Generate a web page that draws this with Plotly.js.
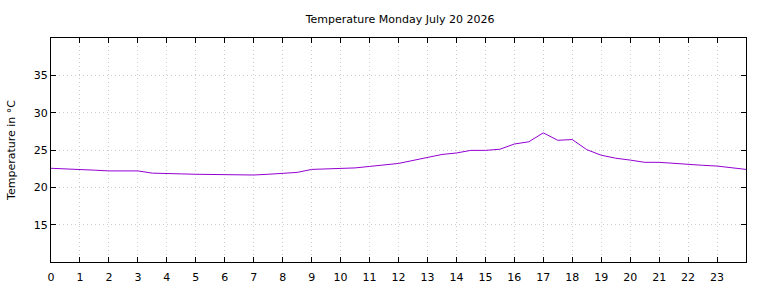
<!DOCTYPE html>
<html>
<head>
<meta charset="utf-8">
<script src="https://cdn.plot.ly/plotly-3.0.1.min.js"></script>
<style>
  html, body { margin: 0; padding: 0; background: #fff; }
  #chart { width: 768px; height: 288px; }
</style>
</head>
<body>
<div id="chart"></div>
<script>
// Half-hourly readings for the day (hour of day -> temperature in °C)
const hours = [
  0, 0.5, 1, 1.5, 2, 2.5, 3, 3.5, 4, 4.5, 5, 5.5, 6, 6.5, 7, 7.5,
  8, 8.5, 9, 9.5, 10, 10.5, 11, 11.5, 12, 12.5, 13, 13.5, 14, 14.5, 15, 15.5,
  16, 16.5, 17, 17.5, 18, 18.5, 19, 19.5, 20, 20.5, 21, 21.5, 22, 22.5, 23, 23.5, 24
];
const temps = [
  22.55, 22.5, 22.4, 22.3, 22.2, 22.2, 22.2, 21.9, 21.9, 21.8, 21.75, 21.7, 21.65, 21.65, 21.65, 21.75,
  21.9, 22.0, 22.4, 22.45, 22.5, 22.6, 22.8, 23.0, 23.2, 23.6, 23.95, 24.4, 24.6, 24.95, 24.95, 25.1,
  25.8, 26.1, 27.3, 26.3, 26.4, 25.05, 24.3, 23.9, 23.65, 23.35, 23.35, 23.2, 23.1, 22.95, 22.85, 22.65, 22.4
];
const xTicks = [0,1,2,3,4,5,6,7,8,9,10,11,12,13,14,15,16,17,18,19,20,21,22,23];
const yTicks = [15, 20, 25, 30, 35];

const font = { family: 'DejaVu Sans, sans-serif', size: 11, color: '#000' };

const axisCommon = {
  showline: true,
  linecolor: '#000',
  linewidth: 1,
  mirror: 'ticks',
  ticks: 'inside',
  ticklen: 5,
  tickwidth: 1,
  tickcolor: '#000',
  showgrid: true,
  gridcolor: '#cccccc',
  griddash: '1px,3px',
  gridwidth: 1,
  zeroline: false,
  tickfont: font
};

const trace = {
  x: hours,
  y: temps,
  type: 'scatter',
  mode: 'lines',
  line: { color: '#9400d3', width: 1 },
  hoverinfo: 'skip'
};

const layout = {
  width: 768,
  height: 288,
  margin: { l: 51, r: 22, t: 38, b: 26 },
  paper_bgcolor: '#fff',
  plot_bgcolor: '#fff',
  showlegend: false,
  font: font,
  title: {
    text: 'Temperature Monday July 20 2026',
    font: font,
    x: 0.521,
    xanchor: 'center',
    y: 1 - 19 / 288,
    yanchor: 'middle'
  },
  xaxis: Object.assign({}, axisCommon, {
    range: [0, 24],
    tickmode: 'array',
    tickvals: xTicks,
    ticktext: xTicks.map(String),
    ticklabelstandoff: 5
  }),
  yaxis: Object.assign({}, axisCommon, {
    range: [10, 40],
    tickmode: 'array',
    tickvals: yTicks,
    ticktext: yTicks.map(String),
    title: { text: 'Temperature in °C', font: font, standoff: 15 }
  })
};

Plotly.newPlot('chart', [trace], layout, { staticPlot: true, displayModeBar: false });
</script>
</body>
</html>
